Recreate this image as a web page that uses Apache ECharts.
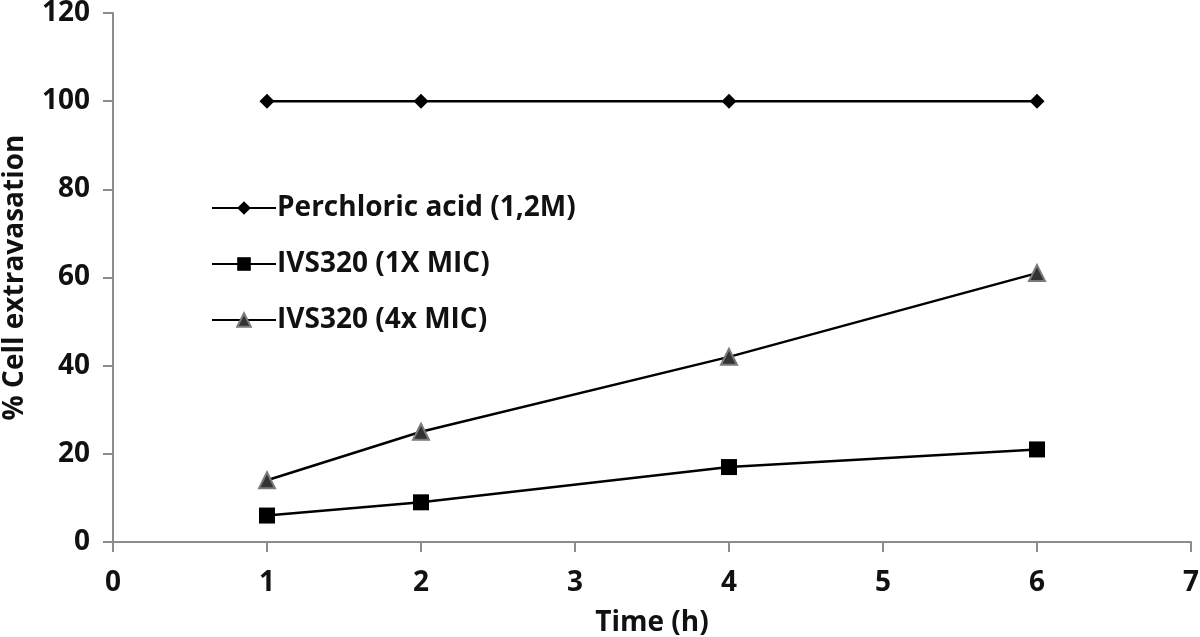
<!DOCTYPE html>
<html>
<head>
<meta charset="utf-8">
<script src="https://cdn.jsdelivr.net/npm/echarts@6/dist/echarts.min.js"></script>
<style>
  html, body { margin: 0; padding: 0; background: #fff; }
  #chart { width: 1200px; height: 637px; }
</style>
</head>
<body>
<div id="chart"></div>
<script>
// time points (h)
const times = [1, 2, 4, 6]
// % cell extravasation per series
const perchloric = [100, 100, 100, 100]
const mic1x = [6, 9, 17, 21]
const mic4x = [14, 25, 42, 61]
const seriesNames = ['Perchloric acid (1,2M)', 'IVS320 (1X MIC)', 'IVS320 (4x MIC)']

const font = '"Open Sans", "DejaVu Sans", sans-serif'
const txt = { fontFamily: font, fontSize: 28, fontWeight: 'bold', color: '#111' }
const pair = (vals) => times.map((t, i) => [t, vals[i]])

const myChart = echarts.init(document.getElementById('chart'))
myChart.setOption({
    animation: false,
    backgroundColor: '#fff',
    grid: { left: 113, right: 9, top: 13, bottom: 95, containLabel: false, outerBoundsMode: 'none' },
    legend: {
        orient: 'vertical',
        left: 206,
        top: 189,
        itemGap: 28,
        itemWidth: 64,
        itemHeight: 17,
        textStyle: Object.assign({}, txt, { padding: [0, 0, 0, -4] }),
        data: seriesNames
    },
    xAxis: {
        type: 'value',
        min: 0, max: 7, interval: 1,
        name: 'Time (h)',
        nameLocation: 'middle',
        nameGap: 67,
        nameTextStyle: txt,
        axisLine: { lineStyle: { color: '#8c8c8c', width: 2 } },
        axisTick: { show: true, length: 10, lineStyle: { color: '#8c8c8c', width: 2 } },
        axisLabel: Object.assign({}, txt, { margin: 27 }),
        splitLine: { show: false }
    },
    yAxis: {
        type: 'value',
        min: 0, max: 120, interval: 20,
        name: '% Cell extravasation',
        nameLocation: 'middle',
        nameGap: 84,
        nameTextStyle: txt,
        axisLine: { show: true, lineStyle: { color: '#8c8c8c', width: 2 } },
        axisTick: { show: true, length: 10, lineStyle: { color: '#8c8c8c', width: 2 } },
        axisLabel: Object.assign({}, txt, { margin: 23 }),
        splitLine: { show: false }
    },
    series: [
        {
            name: seriesNames[0],
            type: 'line',
            data: pair(perchloric),
            symbol: 'diamond',
            symbolSize: 15,
            itemStyle: { color: '#000' },
            lineStyle: { color: '#000', width: 2.5 }
        },
        {
            name: seriesNames[1],
            type: 'line',
            data: pair(mic1x),
            symbol: 'rect',
            symbolSize: 16,
            itemStyle: { color: '#000' },
            lineStyle: { color: '#000', width: 2.5 }
        },
        {
            name: seriesNames[2],
            type: 'line',
            data: pair(mic4x),
            symbol: 'triangle',
            symbolSize: 16,
            itemStyle: { color: '#333', borderColor: '#7a7a7a', borderWidth: 2 },
            lineStyle: { color: '#000', width: 2.5 }
        }
    ]
})
</script>
</body>
</html>
